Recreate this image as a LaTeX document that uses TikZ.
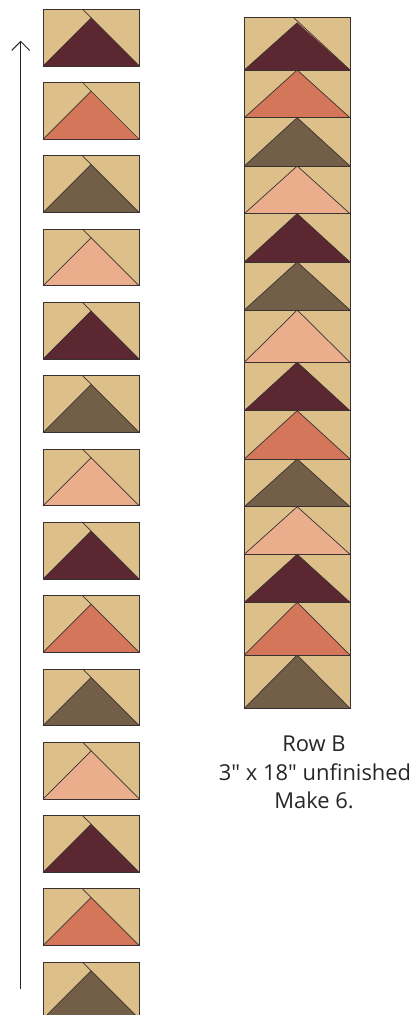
\documentclass[tikz,border=0pt]{standalone}
\usepackage{fontspec}
\setmainfont{Open Sans}[Ligatures=TeXOff]
\usetikzlibrary{arrows.meta}
\definecolor{qtan}{HTML}{DDBF8A}
\definecolor{qmaroon}{HTML}{5B2730}
\definecolor{qterra}{HTML}{D3765A}
\definecolor{qbrown}{HTML}{735F48}
\definecolor{qpeach}{HTML}{EAAE8C}
\definecolor{qline}{HTML}{3A3232}
\begin{document}
\begin{tikzpicture}[x=1bp,y=-1bp,
  blockedge/.style={draw=qline,line width=1bp},
  seam/.style={draw=qline,line width=0.7bp},
  lbl/.style={font=\fontsize{22}{26}\selectfont,text=black!85,anchor=base,inner sep=0pt}]
\useasboundingbox (0,0) rectangle (418,1015);
% left column
\foreach \c [count=\i from 0] in {qmaroon,qterra,qbrown,qpeach,qmaroon,qbrown,qpeach,qmaroon,qterra,qbrown,qpeach,qmaroon,qterra,qbrown}{
  \pgfmathsetmacro\t{9.3+\i*73.3}
  \pgfmathsetmacro\bt{\t+56.7}
  \pgfmathsetmacro\ap{\t+8.55}
  \fill[qtan] (43,\t) rectangle (139.3,\bt);
  \fill[\c] (43,\bt) -- (91.15,\ap) -- (139.3,\bt) -- cycle;
  \draw[seam] (43,\bt) -- (91.15,\ap);
  \draw[seam] (82.6,\t) -- (139.3,\bt);
  \draw[blockedge] (43,\t) rectangle (139.3,\bt);
}
% right column
\foreach \a/\b/\c in {70/117.7/qterra,117.7/166/qbrown,166/213.7/qpeach,213.7/262/qmaroon,262/310/qbrown,310/362.3/qpeach,362.3/410.7/qmaroon,410.7/459/qterra,459/506.7/qbrown,506.7/554.3/qpeach,554.3/602.3/qmaroon,602.3/655/qterra,655/708.3/qbrown}{
  \fill[qtan] (244.3,\a) rectangle (350,\b);
  \fill[\c] (244.3,\b) -- (297.2,\a) -- (350,\b) -- cycle;
  \draw[seam] (244.3,\b) -- (297.2,\a) -- (350,\b);
  \draw[blockedge] (244.3,\a) rectangle (350,\b);
}
% top block of right column
\fill[qtan] (244.3,17.3) rectangle (350,70);
\fill[qmaroon] (244.3,70) -- (297.3,22.7) -- (350,70) -- cycle;
\draw[seam] (244.3,70) -- (297.3,22.7);
\draw[seam] (293.3,17.3) -- (350,70);
\draw[blockedge] (244.3,17.3) rectangle (350,70);
% arrow
\coordinate (abot) at (20.7,989);
\coordinate (atop) at (20.7,40.7);
\draw[line width=1bp,draw=black!85,-{Straight Barb[length=9bp,width=18bp,line width=1bp]}] (abot) -- (atop);
% labels
\node[lbl] (l1) at (314,751.5) {Row B};
\node[lbl] (l2) at (315,780.5) {3" x 18" unfinished};
\node[lbl] (l3) at (314,808.5) {Make 6.};
\end{tikzpicture}
\end{document}
